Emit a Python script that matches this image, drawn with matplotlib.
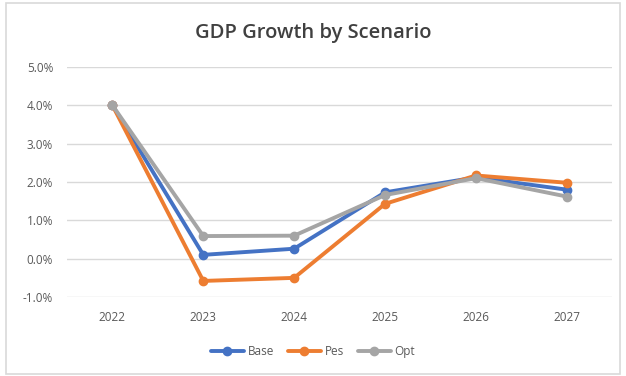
import matplotlib.pyplot as plt
from matplotlib.patches import Rectangle
from matplotlib.ticker import FuncFormatter

years = ["2022", "2023", "2024", "2025", "2026", "2027"]
base = [4.0, 0.1, 0.26, 1.73, 2.12, 1.8]
pes = [4.0, -0.58, -0.5, 1.43, 2.17, 1.98]
opt = [4.0, 0.59, 0.6, 1.66, 2.1, 1.62]

series = [("Base", base, "#4472C4"), ("Pes", pes, "#ED7D31"), ("Opt", opt, "#A5A5A5")]
text_col = "#595959"

plt.rcParams["font.family"] = ["Open Sans", "DejaVu Sans"]

fig = plt.figure(figsize=(6.26, 3.76), dpi=100)
ax = fig.add_axes([0.107, 0.21, 0.871, 0.612])

x = range(len(years))
for name, vals, col in series:
    ax.plot(x, vals, color=col, lw=2.8, marker="o", ms=6, label=name,
            solid_joinstyle="round", solid_capstyle="round")

ax.set_xlim(-0.5, len(years) - 0.5)
ax.set_ylim(-1.0, 5.0)
ax.set_yticks([-1, 0, 1, 2, 3, 4, 5])
ax.yaxis.set_major_formatter(FuncFormatter(lambda v, p: f"{v:.1f}%"))
ax.set_xticks(list(x))
ax.set_xticklabels(years)
ax.grid(axis="y", color="#D9D9D9", lw=1)
ax.set_axisbelow(True)
for s in ax.spines.values():
    s.set_visible(False)
ax.tick_params(length=0, labelsize=8.5, labelcolor=text_col)
ax.tick_params(axis="x", pad=10)
ax.tick_params(axis="y", pad=10)

fig.text(0.5, 0.912, "GDP Growth by Scenario", ha="center", va="center",
         fontsize=14.5, color="#404040", fontweight="semibold")

fig.legend(loc="center", bbox_to_anchor=(0.5, 0.065), ncol=3, frameon=False,
           fontsize=8.5, labelcolor=text_col, handlelength=2.8,
           handletextpad=0.3, columnspacing=1.2)

# outer chart frame
fig.patches.append(Rectangle((0.01, 0.005), 0.981, 0.987, transform=fig.transFigure,
                             fill=False, edgecolor="#D9D9D9", lw=1.2))

fig.savefig("out.png", dpi=100)
